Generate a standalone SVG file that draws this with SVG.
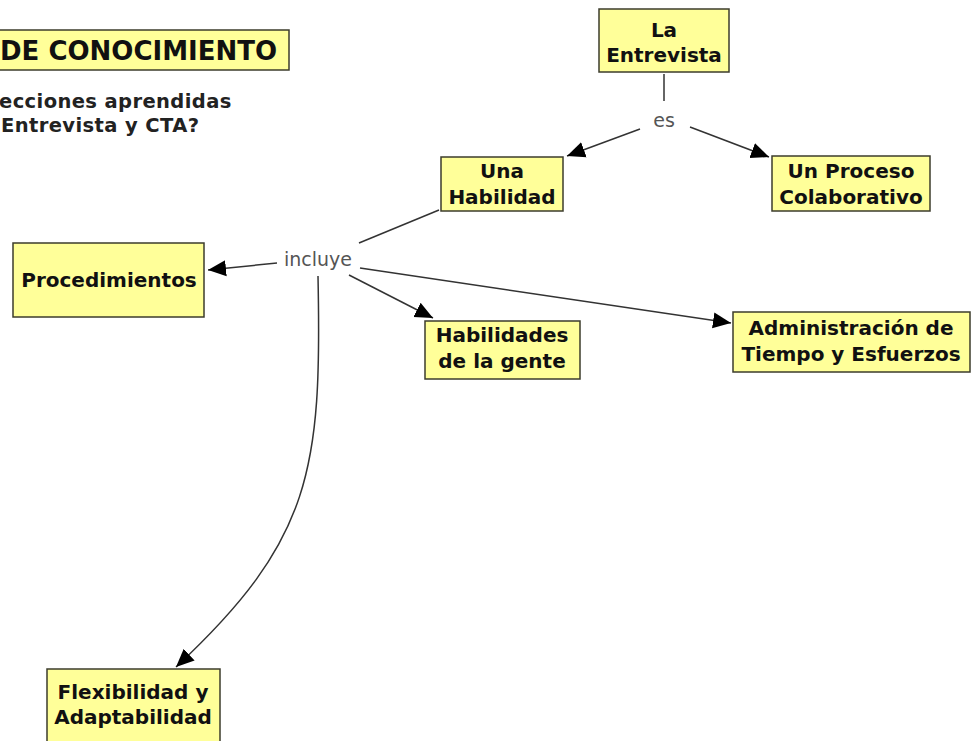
<svg xmlns="http://www.w3.org/2000/svg" width="972" height="741" viewBox="0 0 972 741">
<defs>
<style>
.box{fill:#ffff99;stroke:#3c3c2c;stroke-width:1.5}
.lbl{font-family:"DejaVu Sans",Verdana,sans-serif;font-weight:bold;font-size:20px;fill:#111;text-anchor:middle}
.lnk{font-family:"DejaVu Sans",Verdana,sans-serif;font-size:19px;fill:#555;text-anchor:middle}
.con{fill:none;stroke:#333;stroke-width:1.5}
</style>
<marker id="arr" markerUnits="userSpaceOnUse" viewBox="-18 -9 18 18" markerWidth="18" markerHeight="18" refX="0" refY="0" orient="auto">
<path d="M0,0 L-18,-8 L-18,8 Z" fill="#000"/>
</marker>
</defs>
<rect width="972" height="741" fill="#fff"/>
<g id="title">
<rect class="box" x="-10" y="30" width="299" height="40"/>
<text x="0" y="60" font-family="DejaVu Sans,Verdana,sans-serif" font-weight="bold" font-size="26" fill="#111">DE CONOCIMIENTO</text>
</g>
<g id="subtitle" font-family="DejaVu Sans,Verdana,sans-serif" font-weight="bold" font-size="19.5" letter-spacing="0.4" fill="#222">
<text x="-1" y="108">ecciones aprendidas</text>
<text x="1" y="132">Entrevista y CTA?</text>
</g>
<g id="connectors">
<line class="con" x1="664" y1="74" x2="664" y2="101"/>
<line class="con" x1="640" y1="129" x2="567" y2="156" marker-end="url(#arr)"/>
<line class="con" x1="690" y1="127" x2="769" y2="157" marker-end="url(#arr)"/>
<line class="con" x1="439" y1="210" x2="359" y2="243"/>
<line class="con" x1="277" y1="263" x2="208" y2="270" marker-end="url(#arr)"/>
<line class="con" x1="349" y1="275" x2="433" y2="318" marker-end="url(#arr)"/>
<line class="con" x1="360" y1="268" x2="731" y2="323" marker-end="url(#arr)"/>
<path class="con" d="M318,276 C322,470 312,540 176,667" marker-end="url(#arr)"/>
</g>
<g id="la-entrevista">
<rect class="box" x="599" y="9" width="130" height="63"/>
<text class="lbl" x="664" y="37">La</text>
<text class="lbl" x="664" y="62">Entrevista</text>
</g>
<g id="es"><text class="lnk" x="664" y="127">es</text></g>
<g id="una-habilidad">
<rect class="box" x="441" y="157" width="122" height="54"/>
<text class="lbl" x="502" y="178">Una</text>
<text class="lbl" x="502" y="204">Habilidad</text>
</g>
<g id="un-proceso">
<rect class="box" x="772" y="156" width="158" height="55"/>
<text class="lbl" x="851" y="178">Un Proceso</text>
<text class="lbl" x="851" y="204">Colaborativo</text>
</g>
<g id="incluye"><text class="lnk" x="318" y="266">incluye</text></g>
<g id="procedimientos">
<rect class="box" x="13" y="243" width="191" height="74"/>
<text class="lbl" x="109" y="287">Procedimientos</text>
</g>
<g id="habilidades-gente">
<rect class="box" x="425" y="321" width="155" height="58"/>
<text class="lbl" x="502" y="342">Habilidades</text>
<text class="lbl" x="502" y="368">de la gente</text>
</g>
<g id="administracion">
<rect class="box" x="733" y="312" width="237" height="60"/>
<text class="lbl" x="851" y="335">Administración de</text>
<text class="lbl" x="851" y="361">Tiempo y Esfuerzos</text>
</g>
<g id="flexibilidad">
<rect class="box" x="47" y="669" width="173" height="80"/>
<text class="lbl" x="133" y="699">Flexibilidad y</text>
<text class="lbl" x="133" y="724">Adaptabilidad</text>
</g>
</svg>
